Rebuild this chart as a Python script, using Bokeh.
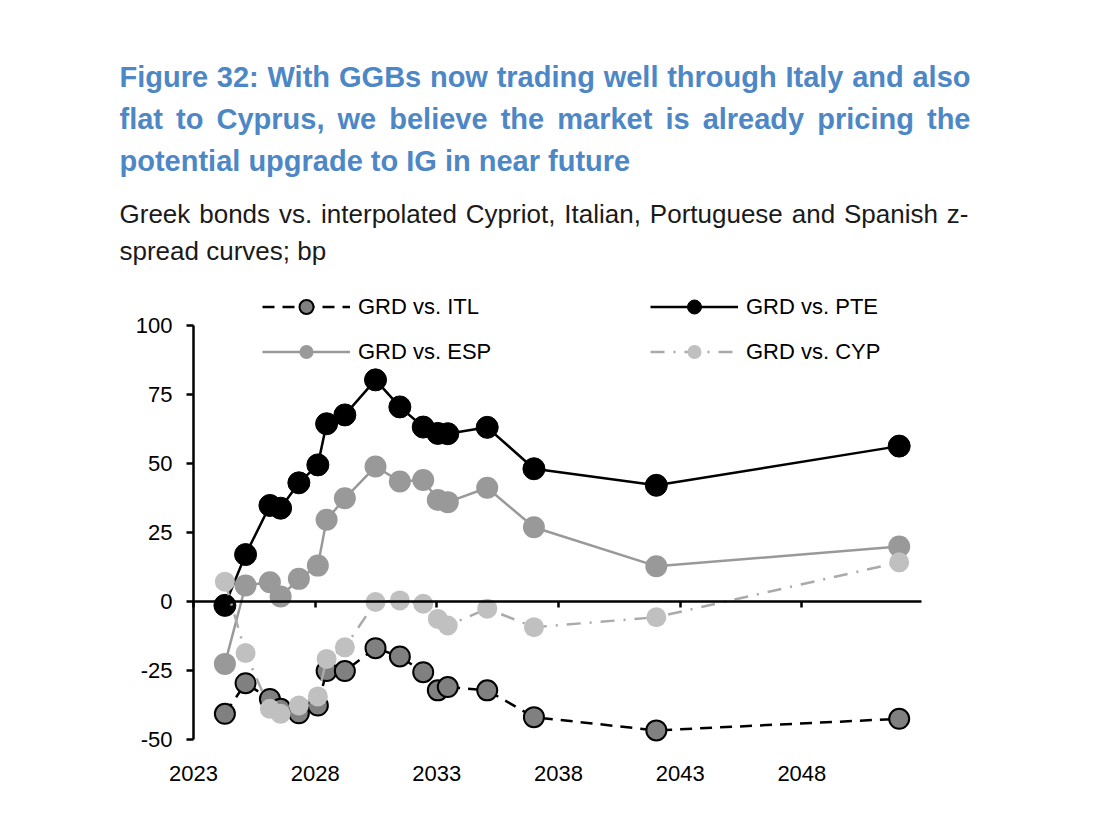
from bokeh.plotting import figure
from bokeh.models import Legend, LegendItem, FixedTicker, Range1d, LinearAxis
from bokeh.core.properties import value
from bokeh.embed import file_html
from bokeh.resources import INLINE

# ---- data ----
maturity = [2024.29, 2025.14, 2026.14, 2026.58, 2027.33, 2028.11, 2028.47, 2029.22,
            2030.48, 2031.48, 2032.44, 2033.04, 2033.45, 2035.07, 2036.99, 2042.02, 2052.0]
grd_vs_itl = [-40.7, -29.6, -35.3, -38.9, -40.5, -37.7, -25.2, -25.2, -16.9, -19.9,
              -25.6, -32.2, -31.0, -32.2, -41.9, -46.7, -42.5]
grd_vs_pte = [-1.4, 17.0, 34.8, 33.8, 43.0, 49.5, 64.4, 67.6, 80.3, 70.5,
              63.2, 60.9, 60.8, 63.1, 48.1, 42.1, 56.3]
grd_vs_esp = [-22.6, 5.8, 7.0, 1.8, 8.2, 13.0, 29.6, 37.4, 48.9, 43.5,
              44.0, 36.8, 36.0, 41.2, 26.9, 12.8, 19.9]
grd_vs_cyp = [7.2, -18.7, -38.9, -40.7, -37.7, -34.4, -20.8, -16.6, -0.2, 0.4,
              -0.8, -6.3, -8.7, -2.6, -9.3, -5.7, 14.2]
x_ticks = [2023, 2028, 2033, 2038, 2043, 2048]
y_ticks = [-50, -25, 0, 25, 50, 75, 100]

title_lines = ["Figure 32: With GGBs now trading well through Italy and also",
               "flat to Cyprus, we believe the market is already pricing the",
               "potential upgrade to IG in near future"]
sub_lines = ["Greek bonds vs. interpolated Cypriot, Italian, Portuguese and Spanish z-",
             "spread curves; bp"]

FONT = "Liberation Sans"
BLUE = "#4d87c5"
W, H = 1085, 830

# layout geometry (page pixels)
FRAME_L, FRAME_R, FRAME_T, FRAME_B = 100, 975, 0, 756
X0_PX, PX_PER_YR = 193, 121.67 / 5      # 2023 sits at x=193
Y0_PX, PX_PER_BP = 601, 2.76            # 0 bp sits at y=601
X_AXIS_END = 2023 + (921 - X0_PX) / PX_PER_YR


def px2x(px):
    return 2023 + (px - X0_PX) / PX_PER_YR


def py2y(py):
    return (Y0_PX - py) / PX_PER_BP


# approximate Arial / Liberation Sans advance widths (per 1000 em) for justification
BOLD_W = dict(zip(" ,.:;-", [278, 278, 278, 333, 333, 333]))
BOLD_W.update({d: 556 for d in "0123456789"})
BOLD_W.update(dict(zip("BCFGISW", [722, 722, 611, 778, 278, 667, 944])))
BOLD_W.update(dict(zip("abcdefghijklmnopqrstuvwxyz",
                       [556, 611, 556, 611, 556, 333, 611, 611, 278, 278, 556, 278, 889,
                        611, 611, 611, 611, 389, 556, 333, 611, 556, 778, 556, 556, 500])))
REG_W = dict(zip(" ,.:;-", [278, 278, 278, 278, 278, 333]))
REG_W.update(dict(zip("CGIPS", [722, 778, 278, 667, 667])))
REG_W.update(dict(zip("abcdefghijklmnopqrstuvwxyz",
                      [556, 556, 500, 556, 556, 278, 556, 556, 222, 222, 500, 222, 833,
                       556, 556, 556, 556, 333, 500, 278, 556, 500, 722, 500, 500, 500])))


def justify(line, table, size, x0, x1):
    words = line.split(" ")
    widths = [sum(table.get(c, 556) for c in w) * size / 1000.0 for w in words]
    gap = (x1 - x0 - sum(widths)) / (len(words) - 1)
    xs, x = [], x0
    for w in widths:
        xs.append(x)
        x += w + gap
    return words, xs


p = figure(width=W, height=H,
           x_range=Range1d(px2x(FRAME_L), px2x(FRAME_R)),
           y_range=Range1d(py2y(FRAME_B), py2y(FRAME_T)),
           output_backend="svg", toolbar_location=None,
           min_border_left=FRAME_L, min_border_right=W - FRAME_R,
           min_border_top=FRAME_T, min_border_bottom=H - FRAME_B)
p.outline_line_color = None
p.grid.visible = False

# bottom axis: only the year labels, at the bottom of the plot
p.xaxis.ticker = FixedTicker(ticks=x_ticks)
p.xaxis.axis_line_color = None
p.xaxis.major_tick_line_color = None
p.xaxis.minor_tick_line_color = None
p.xaxis.major_label_standoff = 3
p.xaxis.major_label_text_font = FONT
p.xaxis.major_label_text_font_size = "22px"
p.xaxis.major_label_text_color = "black"

# horizontal axis line drawn through 0 bp
zero_axis = LinearAxis(fixed_location=0, bounds=(2023, X_AXIS_END),
                       ticker=FixedTicker(ticks=x_ticks),
                       axis_line_color="black", axis_line_width=2.5,
                       major_tick_line_color="black", major_tick_line_width=2.5,
                       major_tick_out=6, major_tick_in=0, minor_tick_line_color=None,
                       major_label_text_color=None, major_label_text_font_size="1px",
                       major_label_standoff=0)
p.add_layout(zero_axis, "below")

# vertical axis at 2023
p.yaxis.fixed_location = 2023
p.yaxis.ticker = FixedTicker(ticks=y_ticks)
p.yaxis.major_label_overrides = {t: str(t) for t in y_ticks}
p.yaxis.bounds = (-50, 100)
p.yaxis.axis_line_width = 2.5
p.yaxis.axis_line_color = "black"
p.yaxis.major_tick_line_width = 2.5
p.yaxis.major_tick_line_color = "black"
p.yaxis.major_tick_out = 7
p.yaxis.major_tick_in = 0
p.yaxis.minor_tick_line_color = None
p.yaxis.major_label_standoff = 14
p.yaxis.major_label_text_font = FONT
p.yaxis.major_label_text_font_size = "22px"
p.yaxis.major_label_text_color = "black"

# series (drawn in legend order)
l_itl = p.line(maturity, grd_vs_itl, line_color="black", line_width=2.5, line_dash="12 8")
s_itl = p.scatter(maturity, grd_vs_itl, size=20, fill_color="#808080", line_color="black", line_width=2)
l_pte = p.line(maturity, grd_vs_pte, line_color="black", line_width=2.5)
s_pte = p.scatter(maturity, grd_vs_pte, size=22, fill_color="black", line_color="black")
l_esp = p.line(maturity, grd_vs_esp, line_color="#999999", line_width=2.5)
s_esp = p.scatter(maturity, grd_vs_esp, size=22, fill_color="#999999", line_color=None)
l_cyp = p.line(maturity, grd_vs_cyp, line_color="#aaaaaa", line_width=2.5, line_dash="14 9 2 9")
s_cyp = p.scatter(maturity, grd_vs_cyp, size=20, fill_color="#c0c0c0", line_color=None)


def make_legend(items, left_px):
    # bottom of the legend box sits at page y = 369
    lg = Legend(items=items, location=(left_px - FRAME_L, FRAME_B - 369), orientation="vertical",
                glyph_width=88, glyph_height=35, label_height=35, spacing=10,
                label_standoff=8, padding=0, margin=0,
                border_line_color=None, background_fill_alpha=0,
                label_text_font=FONT, label_text_font_size="22px", label_text_color="black")
    p.add_layout(lg, "center")


make_legend([LegendItem(label="GRD vs. ITL", renderers=[l_itl, s_itl]),
             LegendItem(label="GRD vs. ESP", renderers=[l_esp, s_esp])], 262)
make_legend([LegendItem(label="GRD vs. PTE", renderers=[l_pte, s_pte]),
             LegendItem(label="GRD vs. CYP", renderers=[l_cyp, s_cyp])], 650)

# heading texts
title_y = [76, 118, 160]
for i, t in enumerate(title_lines):
    if i < 2:
        words, xs = justify(t, BOLD_W, 29, 119, 970)
    else:
        words, xs = [t], [119]
    p.text(x=[px2x(v) for v in xs], y=[py2y(title_y[i])] * len(words), text=words,
           text_font=value(FONT), text_font_style="bold", text_font_size="29px",
           text_color=BLUE, text_baseline="middle", text_align="left")

sub_y = [213, 250]
for i, t in enumerate(sub_lines):
    if i == 0:
        words, xs = justify(t, REG_W, 26, 119, 968)
    else:
        words, xs = [t], [119]
    p.text(x=[px2x(v) for v in xs], y=[py2y(sub_y[i])] * len(words), text=words,
           text_font=value(FONT), text_font_size="26px", text_color="#1a1a1a",
           text_baseline="middle", text_align="left")

open("out.html", "w").write(file_html(p, INLINE))
